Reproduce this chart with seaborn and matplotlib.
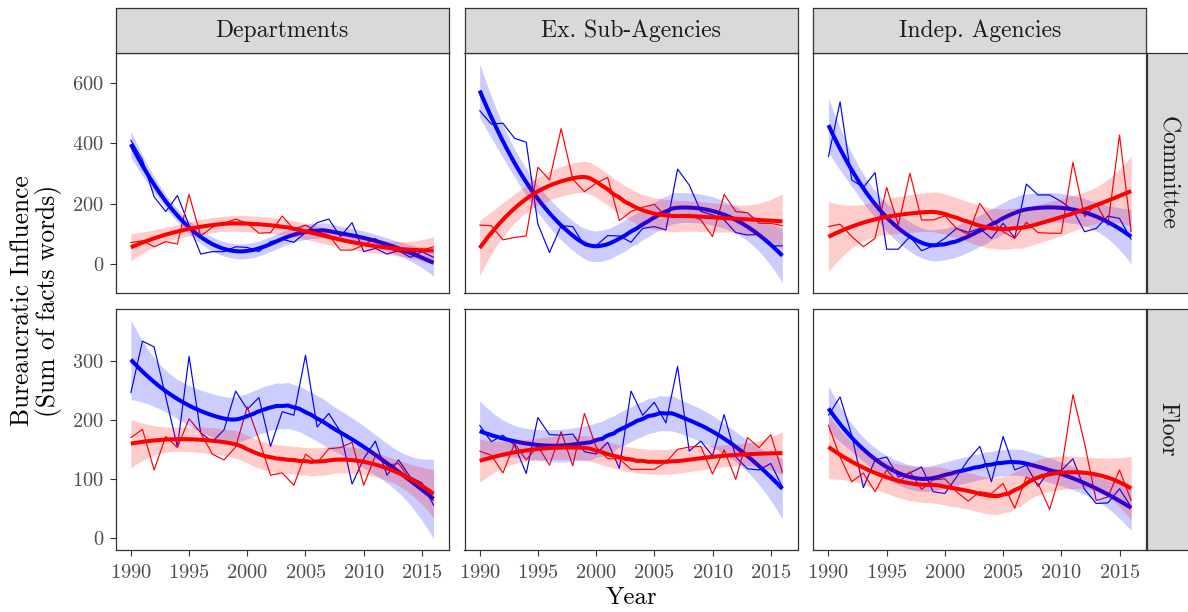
import numpy as np
import pandas as pd
import matplotlib
matplotlib.use("Agg")
import matplotlib.pyplot as plt
import seaborn as sns

# ---------------------------------------------------------------- data
years = list(range(1990, 2017))
agencies = ["Departments", "Ex. Sub-Agencies", "Indep. Agencies"]
venues = ["Committee", "Floor"]

# yearly sums of "facts" words, per agency type / venue / party
dept_committee_dem = [411, 345, 223, 174, 227, 129, 33, 41, 41, 57, 55, 41, 74, 82, 72, 104,
                      137, 149, 91, 137, 41, 52, 33, 44, 22, 41, 22]
dept_committee_rep = [71, 77, 57, 74, 66, 231, 93, 122, 135, 149, 135, 102, 104, 159, 115, 129,
                      107, 96, 46, 46, 63, 85, 52, 41, 33, 46, 57]
exsub_committee_dem = [509, 464, 467, 417, 404, 133, 38, 127, 124, 61, 61, 94, 93, 72, 118, 124,
                       113, 315, 262, 174, 163, 146, 104, 96, 98, 60, 60]
exsub_committee_rep = [129, 127, 80, 88, 93, 321, 279, 449, 281, 240, 268, 287, 144, 174, 188, 198,
                       157, 157, 165, 146, 91, 231, 174, 170, 135, 135, 127]
indep_committee_dem = [356, 538, 279, 254, 303, 49, 49, 91, 44, 60, 85, 118, 105, 118, 85, 135,
                       87, 265, 229, 229, 207, 179, 107, 118, 159, 151, 82]
indep_committee_rep = [124, 132, 91, 57, 85, 254, 129, 301, 146, 146, 160, 118, 98, 201, 146, 107,
                       85, 138, 104, 102, 102, 337, 157, 201, 129, 428, 107]
dept_floor_dem = [246, 334, 324, 239, 154, 308, 178, 163, 183, 249, 218, 238, 155, 214, 208, 310,
                  188, 211, 180, 91, 134, 164, 106, 132, 103, 93, 55]
dept_floor_rep = [170, 184, 115, 172, 153, 202, 178, 142, 132, 154, 222, 167, 106, 110, 89, 142,
                  127, 151, 153, 162, 89, 139, 123, 126, 98, 89, 63]
exsub_floor_dem = [191, 163, 174, 157, 109, 204, 175, 174, 176, 146, 142, 162, 118, 249, 208, 230,
                   195, 291, 147, 164, 139, 209, 137, 117, 115, 126, 86]
exsub_floor_rep = [147, 140, 110, 160, 132, 156, 123, 180, 122, 211, 154, 134, 134, 116, 116, 116,
                   128, 150, 154, 155, 108, 149, 99, 170, 153, 175, 111]
indep_floor_dem = [208, 239, 174, 85, 132, 137, 103, 110, 120, 78, 75, 103, 132, 155, 95, 172,
                   115, 123, 87, 115, 114, 134, 82, 58, 59, 83, 52]
indep_floor_rep = [191, 137, 95, 110, 78, 115, 93, 112, 82, 98, 100, 78, 62, 78, 75, 92,
                   50, 103, 92, 48, 115, 243, 160, 63, 69, 115, 63]

series = {
    ("Departments", "Committee"): (dept_committee_dem, dept_committee_rep),
    ("Ex. Sub-Agencies", "Committee"): (exsub_committee_dem, exsub_committee_rep),
    ("Indep. Agencies", "Committee"): (indep_committee_dem, indep_committee_rep),
    ("Departments", "Floor"): (dept_floor_dem, dept_floor_rep),
    ("Ex. Sub-Agencies", "Floor"): (exsub_floor_dem, exsub_floor_rep),
    ("Indep. Agencies", "Floor"): (indep_floor_dem, indep_floor_rep),
}

rows = []
for (agency, venue), (dem, rep) in series.items():
    for party, vals in (("Dem", dem), ("Rep", rep)):
        for yr, v in zip(years, vals):
            rows.append(dict(agency=agency, venue=venue, party=party, year=yr, value=v))
df = pd.DataFrame(rows)

palette = {"Dem": "#0000FF", "Rep": "#FF0000"}


# ---------------------------------------------------------------- loess smoother
def t975(dfree):
    z = 1.959964
    g1 = (z**3 + z) / 4
    g2 = (5 * z**5 + 16 * z**3 + 3 * z) / 96
    g3 = (3 * z**7 + 19 * z**5 + 17 * z**3 - 15 * z) / 384
    g4 = (79 * z**9 + 776 * z**7 + 1482 * z**5 - 1920 * z**3 - 945 * z) / 92160
    return z + g1 / dfree + g2 / dfree**2 + g3 / dfree**3 + g4 / dfree**4


def loess_rows(x, x_eval, span=0.75):
    n = len(x)
    q = int(np.floor(n * span))
    out = []
    for x0 in x_eval:
        d = np.abs(x - x0)
        h = np.sort(d)[q - 1]
        u = d / h
        w = np.where(u < 1, (1 - u**3) ** 3, 0.0)
        X = np.column_stack([np.ones(n), x - x0, (x - x0) ** 2])
        XtW = X.T * w
        out.append(np.linalg.solve(XtW @ X, XtW)[0])
    return np.array(out)


def loess_fit(x, y, x_eval, span=0.75):
    x = np.asarray(x, float)
    y = np.asarray(y, float)
    L = loess_rows(x, x, span)
    M = np.eye(len(x)) - L
    MtM = M.T @ M
    d1 = np.trace(MtM)
    d2 = np.trace(MtM @ MtM)
    sigma = np.sqrt(np.sum((M @ y) ** 2) / d1)
    Le = loess_rows(x, x_eval, span)
    fit = Le @ y
    se = sigma * np.sqrt(np.sum(Le**2, axis=1))
    tq = t975(d1**2 / d2)
    return fit, fit - tq * se, fit + tq * se


# ---------------------------------------------------------------- figure
sns.set_theme(style="white")
plt.rcParams["font.family"] = ["cmr10", "DejaVu Serif"]
plt.rcParams["axes.formatter.use_mathtext"] = True
plt.rcParams["mathtext.fontset"] = "cm"

W, H = 1188, 612
fig = plt.figure(figsize=(W / 100, H / 100), dpi=100)


def px_axes(left, top, width, height):
    return fig.add_axes([left / W, 1 - (top + height) / H, width / W, height / H])


col_left = [115.7, 464.5, 813.3]
panel_w = 333.0
row_top = [52.7, 309.3]
panel_h = 240.5
strip_top, strip_h = 8.3, 44.4
rstrip_left, rstrip_w = 1147.0, 44.0

ylims = {"Committee": (-97, 701), "Floor": (-20.7, 388)}
yticks = {"Committee": [0, 200, 400, 600], "Floor": [0, 100, 200, 300]}
edge = "#333333"
tick_grey = "#4D4D4D"
x_eval = np.linspace(1990, 2016, 80)

for ri, venue in enumerate(venues):
    for ci, agency in enumerate(agencies):
        ax = px_axes(col_left[ci], row_top[ri], panel_w, panel_h)
        sub = df[(df.agency == agency) & (df.venue == venue)]
        sns.lineplot(data=sub, x="year", y="value", hue="party", palette=palette,
                     hue_order=["Dem", "Rep"], estimator=None, lw=0.85,
                     legend=False, ax=ax, zorder=2)
        for party in ["Dem", "Rep"]:
            s = sub[sub.party == party]
            fit, lo, hi = loess_fit(s.year.values, s.value.values, x_eval)
            ax.fill_between(x_eval, lo, hi, color=palette[party], alpha=0.2, lw=0, zorder=3)
            ax.plot(x_eval, fit, color=palette[party], lw=2.9, zorder=3,
                    solid_capstyle="butt")
        ax.set_xlim(1988.7, 2017.3)
        ax.set_ylim(*ylims[venue])
        ax.set_xlabel("")
        ax.set_ylabel("")
        ax.set_xticks([1990, 1995, 2000, 2005, 2010, 2015])
        ax.set_yticks(yticks[venue])
        ax.grid(False)
        for sp in ax.spines.values():
            sp.set_color(edge)
            sp.set_linewidth(0.9)
        ax.tick_params(axis="both", which="both", direction="out", length=4.0,
                       width=0.8, color=edge, labelcolor=tick_grey, labelsize=14.7)
        ax.tick_params(axis="x", pad=6.3, bottom=(ri == 1), labelbottom=(ri == 1))
        ax.tick_params(axis="y", pad=4.3, left=(ci == 0), labelleft=(ci == 0))

        if ri == 0:
            sax = px_axes(col_left[ci], strip_top, panel_w, strip_h)
            sax.set_facecolor("#D9D9D9")
            sax.set_xticks([])
            sax.set_yticks([])
            for sp in sax.spines.values():
                sp.set_color(edge)
                sp.set_linewidth(0.9)
            sax.text(0.5, 0.5, agency, ha="center", va="center", fontsize=17,
                     color="#1A1A1A", transform=sax.transAxes)

    rax = px_axes(rstrip_left, row_top[ri], rstrip_w, panel_h)
    rax.set_facecolor("#D9D9D9")
    rax.set_xticks([])
    rax.set_yticks([])
    for sp in rax.spines.values():
        sp.set_color(edge)
        sp.set_linewidth(0.9)
    rax.text(0.47, 0.5, venue, ha="center", va="center", rotation=-90, fontsize=17,
             color="#1A1A1A", transform=rax.transAxes)

fig.text(631 / W, 1 - 598 / H, "Year", ha="center", va="center", fontsize=17.8, color="black")
fig.text(36 / W, 1 - 301 / H, "Bureaucratic Influence\n(Sum of facts words)", ha="center",
         va="center", rotation=90, fontsize=18.3, color="black", multialignment="center",
         linespacing=1.05)

fig.savefig("out.png", dpi=100)
